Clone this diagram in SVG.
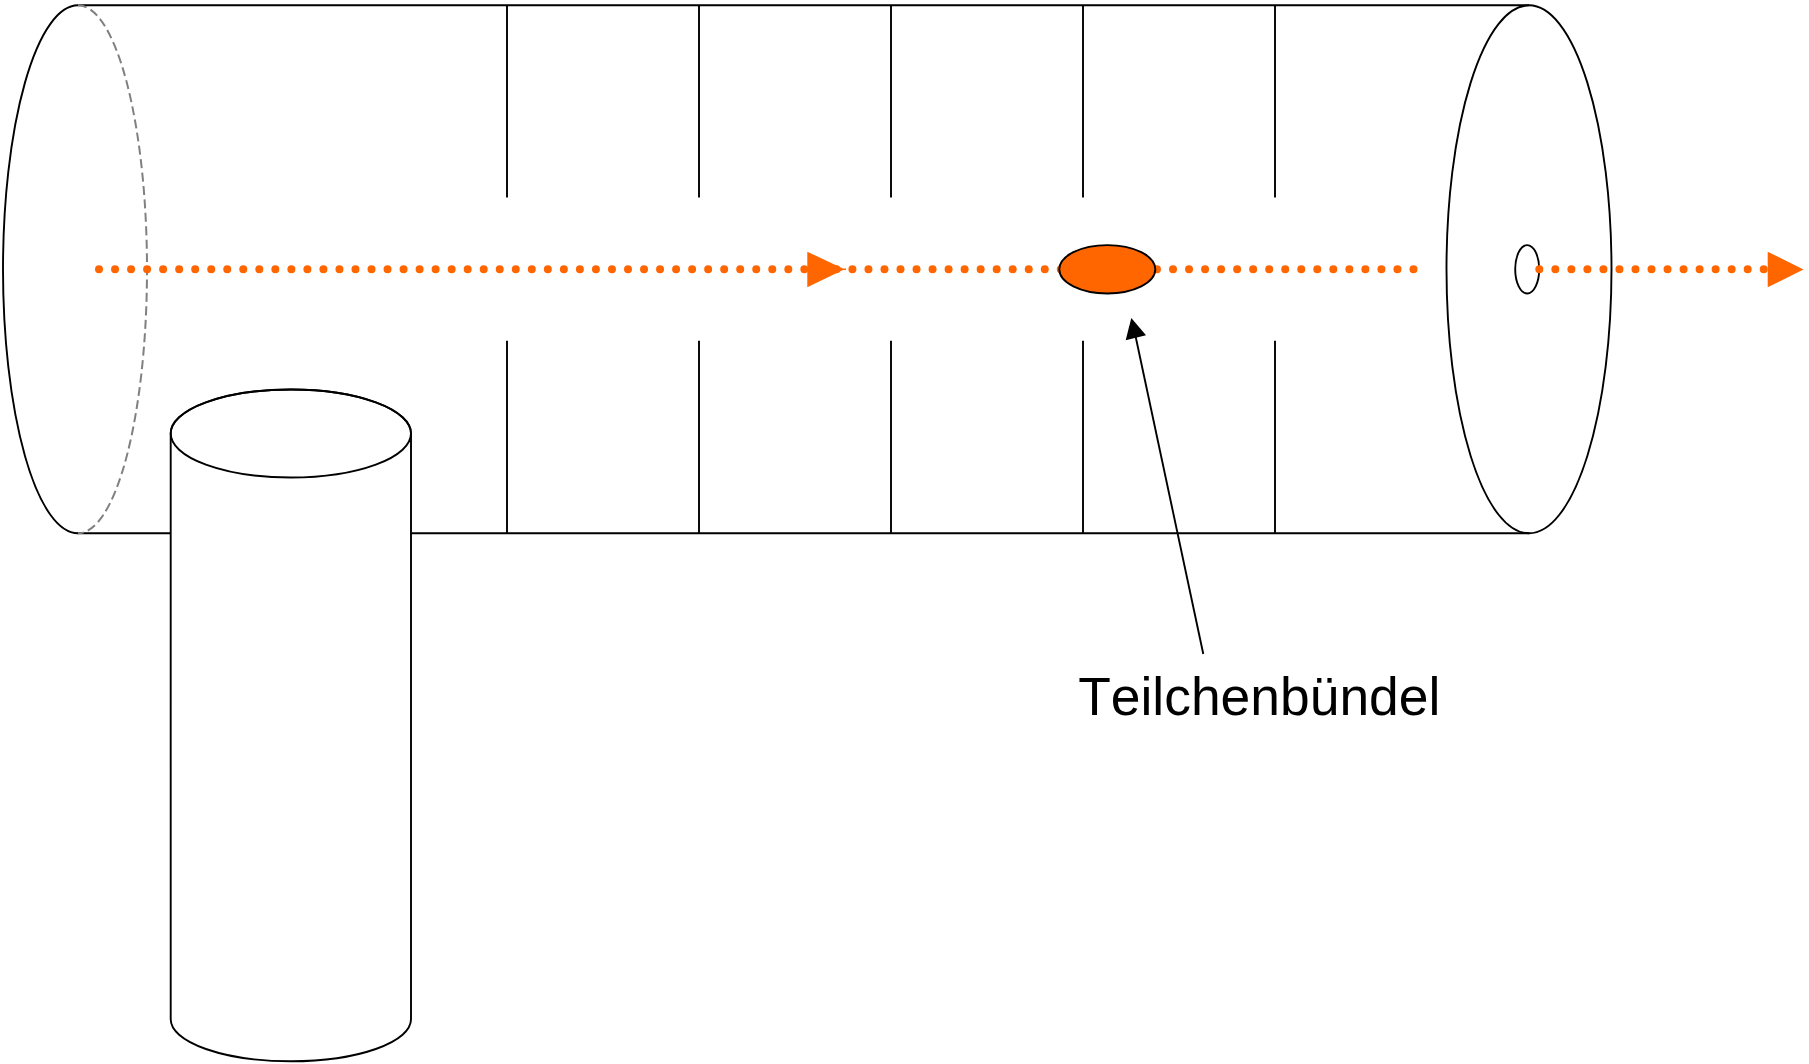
<svg xmlns="http://www.w3.org/2000/svg" width="1809" height="1064" viewBox="0 0 1809 1064">
<style>
.s{fill:none;stroke:#000;stroke-width:1.9}
.w{fill:#fff;stroke:#000;stroke-width:1.9}
.d{fill:none;stroke:#f60;stroke-width:8;stroke-linecap:round;stroke-dasharray:0 16.03}
.h{fill:#f60}
text{font-family:"Liberation Sans",Arial,sans-serif;font-size:53.4px;font-kerning:none;fill:#000}
</style>
<rect width="1809" height="1064" fill="#fff"/>
<g id="tube">
<path class="s" d="M78 5.3H1529M78 533.3H1529"/>
<path class="s" d="M78 5.3A75 264 0 0 0 78 533.3"/>
<path d="M78 5.3A69 264 0 0 1 78 533.3" fill="none" stroke="#808080" stroke-width="2" stroke-dasharray="9 4.4"/>
<path class="s" d="M507 5.3V197.5M699 5.3V197.5M891 5.3V197.5M1083 5.3V197.5M1275 5.3V197.5M507 340.7V533.3M699 340.7V533.3M891 340.7V533.3M1083 340.7V533.3M1275 340.7V533.3"/>
<ellipse class="s" cx="1529" cy="269.3" rx="82.5" ry="264"/>
<ellipse class="s" cx="1527.2" cy="269.3" rx="12" ry="24.2"/>
</g>
<g id="connectors">
<path class="d" d="M99 269.3H1420"/>
<path class="d" d="M1539.3 269.3H1765"/>
<path class="h" d="M807.3 251.7L843 268.6H846V270H843L807.3 287.3Z"/>
<path class="h" d="M1767.7 251.7L1803.5 269.5L1767.7 287.3Z"/>
<path class="s" d="M1203.3 654L1135.5 336"/>
<path d="M1131.3 318L1146 335.3L1125.7 340.3Z" fill="#000"/>
</g>
<g id="bunch"><ellipse cx="1107.3" cy="269.3" rx="48" ry="24.2" fill="#f60" stroke="#000" stroke-width="1.9"/></g>
<g id="cylinder">
<path class="w" d="M170.7 433.5A120.15 44 0 0 1 411 433.5V1019.3A120.15 42 0 0 1 170.7 1019.3Z"/>
<ellipse class="s" cx="290.85" cy="433.5" rx="120.15" ry="44"/>
</g>
<g id="label"><text x="1078.2" y="714.7">Teilchenbündel</text></g>
</svg>
